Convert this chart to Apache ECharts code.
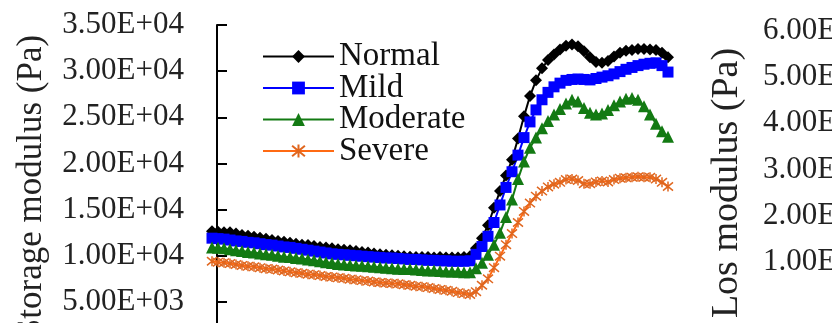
<!DOCTYPE html>
<html><head><meta charset="utf-8">
<script src="https://cdn.jsdelivr.net/npm/echarts@6/dist/echarts.min.js"></script>
<style>html,body{margin:0;padding:0;background:#fff}#c{width:832px;height:323px}</style>
</head><body><div id="c"></div>
<script>
const seriesNames = ['Normal', 'Mild', 'Moderate', 'Severe'];
const pointLabels = ['1','2','3','4','5','6','7','8','9','10','11','12','13','14','15','16','17','18','19','20','21','22','23','24','25','26','27','28','29','30','31','32','33','34','35','36','37','38','39','40','41','42','43','44','45','46','47','48','49','50','51','52','53','54','55','56','57','58','59','60','61','62','63','64','65','66','67','68','69','70','71','72','73','74','75','76','77'];
const normal = [12650,12600,12550,12550,12400,12250,12150,12050,11950,11850,11700,11600,11500,11400,11300,11200,11150,11050,10950,10900,10800,10700,10650,10600,10500,10400,10350,10250,10150,10100,10050,10000,9950,9900,9850,9850,9850,9800,9850,9800,9800,9800,9850,
  9950,10800,11900,13300,15200,17000,18700,20400,22700,25100,27300,29000,30300,31200,31800,32350,32750,32900,32700,32150,31500,31000,30900,31100,31600,32000,32200,32300,32400,32400,32350,32300,32000,31500];
const mild = [11900,11850,11800,11700,11600,11550,11450,11400,11300,11200,11150,11050,10950,10900,10800,10700,10600,10500,10400,10300,10200,10150,10100,10050,10000,9950,9900,9850,9800,9750,9750,9700,9650,9600,9600,9550,9500,9500,9450,9450,9400,9400,9400,
  9450,10150,11000,12100,13600,15500,17400,19100,20900,22800,24500,25800,26900,27700,28300,28700,29000,29100,29150,29100,29050,29200,29350,29500,29700,29950,30200,30400,30600,30750,30850,30900,30600,29900];
const moderate = [10900,10850,10800,10700,10600,10500,10400,10350,10250,10150,10100,10000,9900,9850,9750,9700,9600,9500,9400,9300,9200,9100,9050,9000,8950,8900,8850,8800,8750,8700,8650,8600,8550,8550,8500,8450,8400,8400,8350,8300,8300,8250,8200,
  8200,8650,9250,10100,11200,12500,14200,16100,18300,20200,21700,22800,23800,24600,25300,25900,26500,26900,26700,26000,25500,25300,25400,25800,26300,26700,27000,27100,26900,26200,25300,24300,23500,22900];
const severe = [9400,9300,9250,9150,9050,8950,8850,8800,8700,8600,8550,8450,8350,8250,8150,8100,8000,7950,7850,7750,7700,7600,7550,7450,7400,7300,7250,7150,7100,7050,7000,6950,6850,6800,6700,6650,6550,6450,6350,6250,6150,6000,5900,
  5800,6100,6800,7500,8700,9950,11200,12400,13600,14800,15700,16450,17000,17450,17750,17950,18250,18300,18150,17800,17800,18000,18100,18000,18250,18400,18450,18500,18550,18500,18500,18300,17950,17500];
const storageAxis = { min: 0, max: 35000, interval: 5000 };
const lossAxis = { min: 0, max: 6000, interval: 1000 };
const leftTitle = 'Storage modulus (Pa)';
const rightTitle = 'Los modulus (Pa)';

const FONT = "'Liberation Serif', 'Times New Roman', serif";
function sci(v) {
  if (v === 0) return '0.00E+00';
  const e = Math.floor(Math.log10(Math.abs(v)) + 1e-9);
  const m = v / Math.pow(10, e);
  return m.toFixed(2) + 'E' + (e < 0 ? '-' : '+') + String(Math.abs(e)).padStart(2, '0');
}
const asterisk = 'path://M0,0L10,10M10,0L0,10M5,-1L5,11';

const chart = echarts.init(document.getElementById('c'), null, { renderer: 'canvas' });
chart.setOption({
  animation: false,
  backgroundColor: '#ffffff',
  grid: [
    { left: 212, top: 25, width: 456, height: 323, outerBoundsMode: 'none', containLabel: false },
    { left: 900, top: 31, width: 100, height: 277, outerBoundsMode: 'none', containLabel: false }
  ],
  xAxis: [
    { type: 'category', gridIndex: 0, data: pointLabels, boundaryGap: false, show: false },
    { type: 'value', gridIndex: 1, min: 0, max: 1, show: false }
  ],
  yAxis: [
    {
      type: 'value', gridIndex: 0, min: storageAxis.min, max: storageAxis.max, interval: storageAxis.interval,
      offset: -5,
      axisLine: { show: true, lineStyle: { color: '#000', width: 2 } },
      axisTick: { show: true, inside: true, length: 10, lineStyle: { color: '#000', width: 2 } },
      splitLine: { show: false },
      axisLabel: { formatter: sci, fontFamily: FONT, fontSize: 31, color: '#222', margin: 33 },
      name: leftTitle, nameLocation: 'middle', nameGap: 168,
      nameTextStyle: { fontFamily: FONT, fontSize: 35, color: '#222' }
    },
    {
      type: 'value', gridIndex: 1, min: lossAxis.min, max: lossAxis.max, interval: lossAxis.interval,
      axisLine: { show: true, lineStyle: { color: '#000', width: 2 } },
      axisTick: { show: true, inside: true, length: 10 },
      splitLine: { show: false },
      axisLabel: { formatter: sci, fontFamily: FONT, fontSize: 31, color: '#222', align: 'left', margin: 137, showMinLabel: false }
    }
  ],
  graphic: [
    {
      type: 'text', x: 727, y: 183, rotation: Math.PI / 2,
      style: { text: rightTitle, font: "38px 'Liberation Serif', 'Times New Roman', serif", fill: '#222', align: 'center', verticalAlign: 'middle' }
    }
  ],
  legend: {
    data: seriesNames, orient: 'vertical', left: 262, top: 40, padding: 0,
    itemWidth: 71, itemHeight: 16, itemGap: -1.5,
    textStyle: { fontFamily: FONT, fontSize: 33, color: '#111', lineHeight: 27 }
  },
  series: [
    { name: 'Normal', type: 'line', xAxisIndex: 0, yAxisIndex: 0, data: normal, symbol: 'diamond', symbolSize: 12, showAllSymbol: true,
      lineStyle: { color: '#000000', width: 2 }, itemStyle: { color: '#000000' } },
    { name: 'Mild', type: 'line', xAxisIndex: 0, yAxisIndex: 0, data: mild, symbol: 'rect', symbolSize: 11, showAllSymbol: true,
      lineStyle: { color: '#0000ff', width: 2 }, itemStyle: { color: '#0000ff' } },
    { name: 'Moderate', type: 'line', xAxisIndex: 0, yAxisIndex: 0, data: moderate, symbol: 'triangle', symbolSize: 12, showAllSymbol: true,
      lineStyle: { color: '#137a13', width: 2 }, itemStyle: { color: '#137a13' } },
    { name: 'Severe', type: 'line', xAxisIndex: 0, yAxisIndex: 0, data: severe, symbol: asterisk, symbolSize: 10, showAllSymbol: true,
      lineStyle: { color: '#ff6a13', width: 2 }, itemStyle: { color: '#ff6a13', borderColor: '#e0661e', borderWidth: 1.5 } }
  ]
});
</script>
</body></html>
